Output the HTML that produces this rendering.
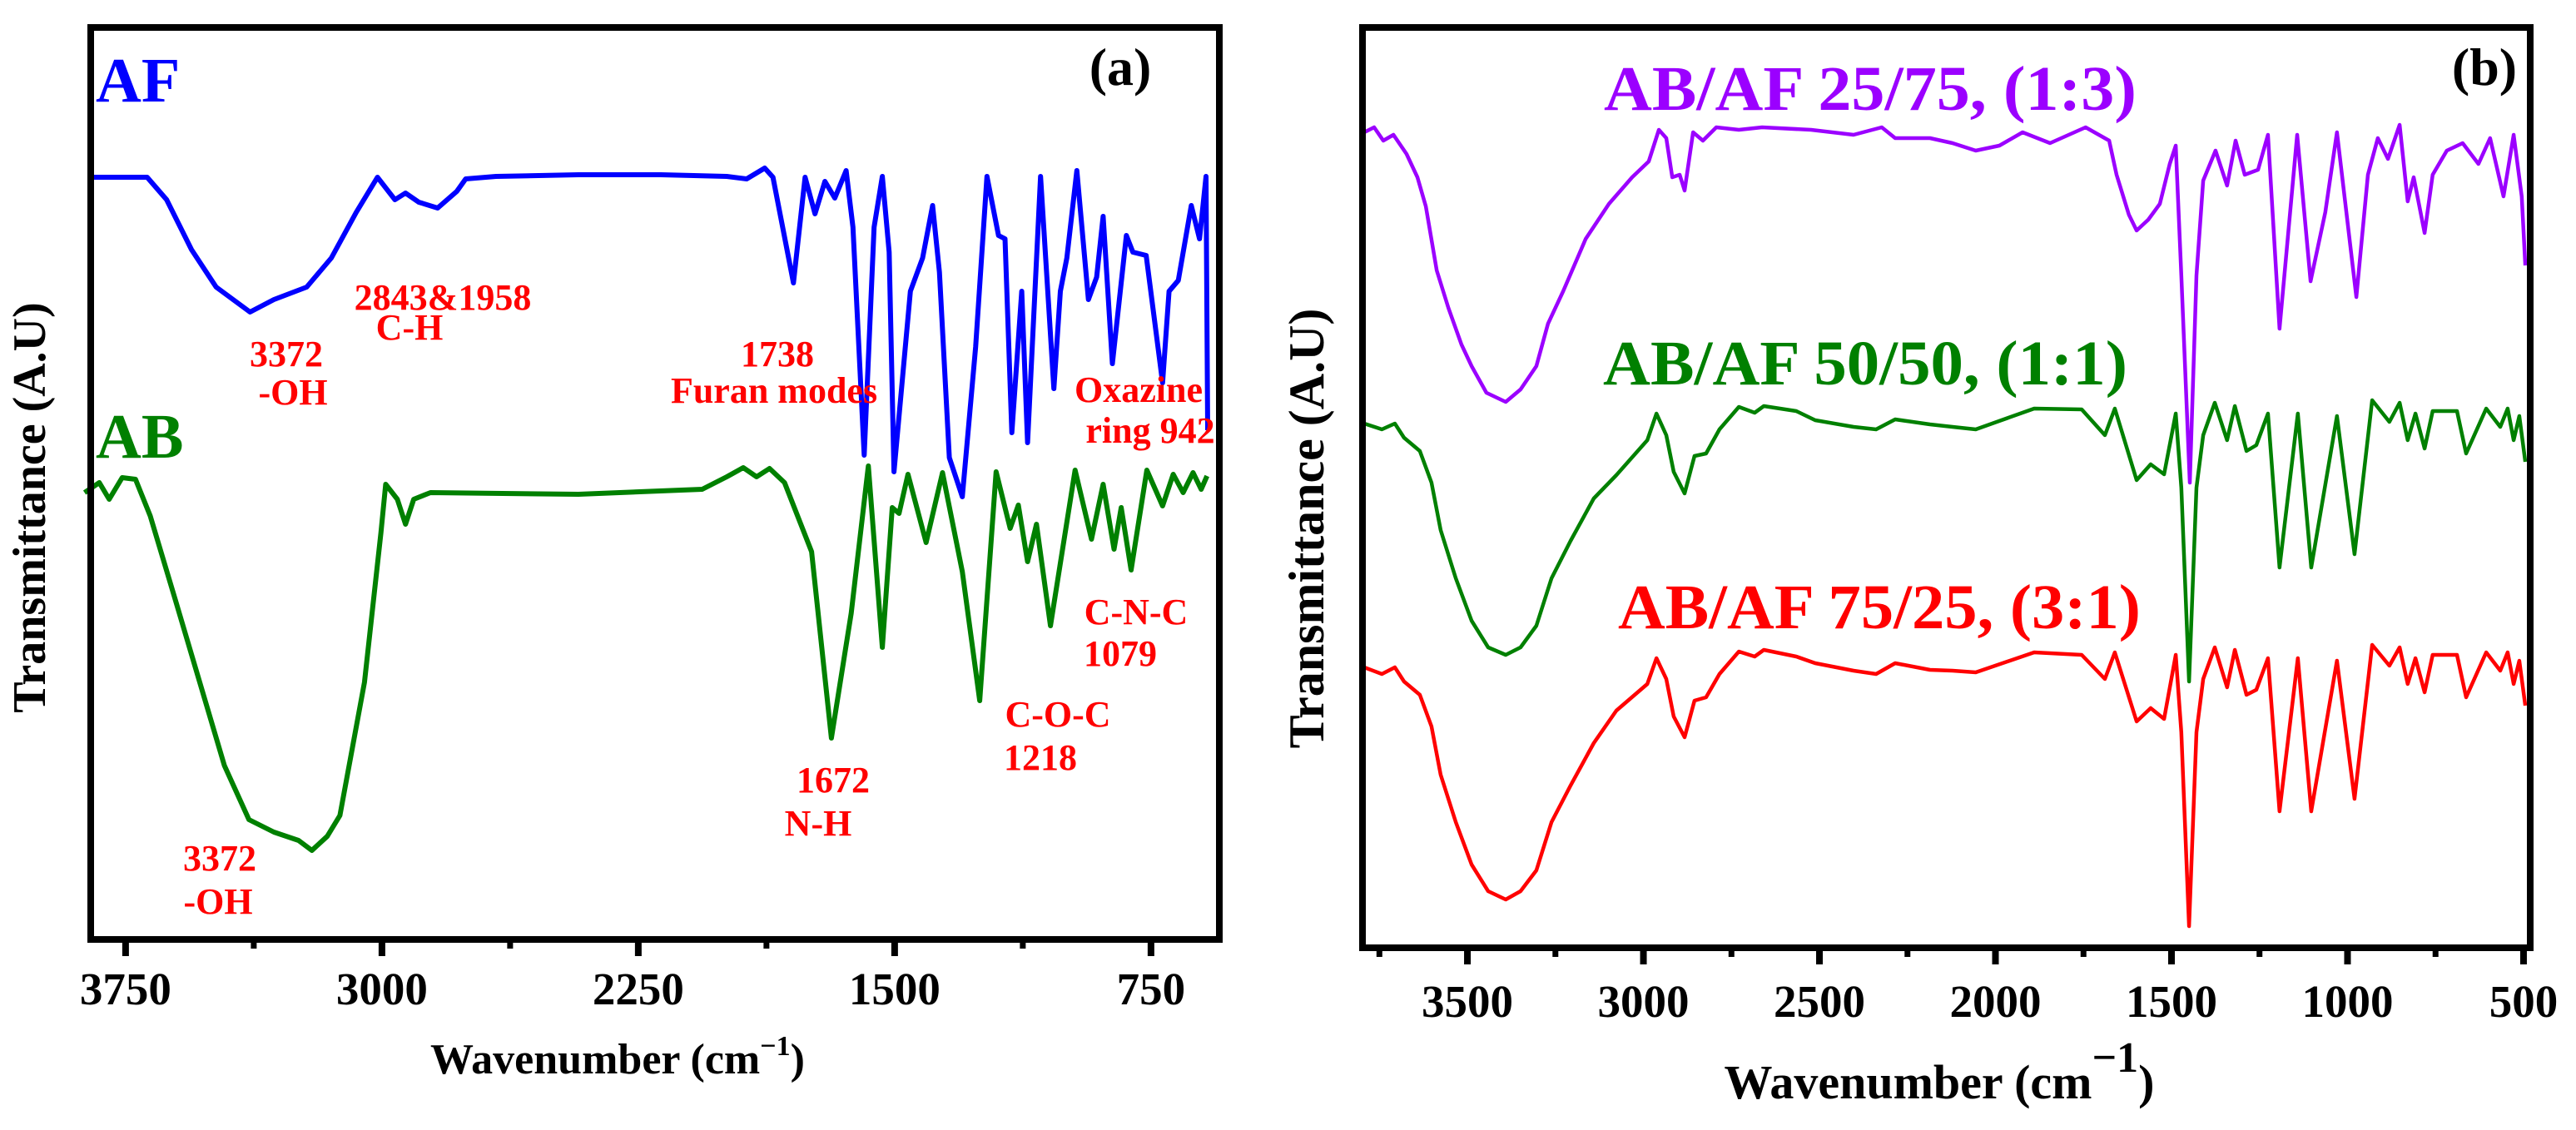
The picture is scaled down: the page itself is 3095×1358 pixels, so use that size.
<!DOCTYPE html>
<html><head><meta charset="utf-8"><title>FTIR spectra</title>
<style>
html,body{margin:0;padding:0;background:#fff;}
svg{display:block;font-family:"Liberation Serif","Times New Roman",serif;font-weight:bold;}
</style></head>
<body>
<svg id="chart" width="3095" height="1358" viewBox="0 0 3095 1358" xmlns="http://www.w3.org/2000/svg">
<rect width="3095" height="1358" fill="#fff"/>
<g id="panelA"></g>
<g id="panelB"></g>

<!-- panel a text -->
<text x="1346" y="102" font-size="64" text-anchor="middle">(a)</text>
<text x="115" y="122" font-size="76" fill="#0000ff">AF</text>
<text x="115" y="550" font-size="76" fill="#008000">AB</text>
<g fill="#ff0000" font-size="44" text-anchor="middle">
<text x="344" y="440">3372</text>
<text x="352" y="486">-OH</text>
<text x="532" y="372">2843&amp;1958</text>
<text x="492" y="408">C-H</text>
<text x="934" y="440">1738</text>
<text x="930" y="484">Furan modes</text>
<text x="1368" y="483">Oxazine</text>
<text x="1382" y="532">ring 942</text>
<text x="1365" y="750">C-N-C</text>
<text x="1346" y="800">1079</text>
<text x="1271" y="873">C-O-C</text>
<text x="1250" y="925">1218</text>
<text x="1001" y="952">1672</text>
<text x="983" y="1004">N-H</text>
<text x="264" y="1046">3372</text>
<text x="262" y="1098">-OH</text>
</g>
<text transform="translate(54,610) rotate(-90)" font-size="56" text-anchor="middle">Transmittance (A.U)</text>
<text x="742" y="1290" font-size="52" text-anchor="middle">Wavenumber (cm<tspan dy="-22" font-size="34">−1</tspan><tspan dy="22">)</tspan></text>

<!-- panel b text -->
<text x="2985" y="102" font-size="64" text-anchor="middle">(b)</text>
<text x="1927" y="132" font-size="76" fill="#9b00ff" textLength="640" lengthAdjust="spacingAndGlyphs">AB/AF 25/75, (1:3)</text>
<text x="1926" y="462" font-size="76" fill="#008000" textLength="630" lengthAdjust="spacingAndGlyphs">AB/AF 50/50, (1:1)</text>
<text x="1944" y="755" font-size="76" fill="#ff0000" textLength="628" lengthAdjust="spacingAndGlyphs">AB/AF 75/25, (3:1)</text>
<text transform="translate(1590,635) rotate(-90)" font-size="60" text-anchor="middle">Transmittance (A.U)</text>
<text x="2330" y="1320" font-size="58" text-anchor="middle">Wavenumber (cm<tspan dy="-32" font-size="52">−1</tspan><tspan dy="32">)</tspan></text>
</svg>
<script>
// ---------- Panel (a) data ----------
const afWn = [3858,3687,3630,3557,3485,3386,3316,3220,3148,3075,3013,2962,2931,2892,2837,2781,2755,2666,2425,2184,1991,1933,1880,1856,1796,1762,1733,1704,1675,1642,1622,1589,1560,1536,1516,1502,1454,1418,1389,1369,1340,1302,1263,1230,1196,1177,1157,1128,1111,1073,1034,1015,996,967,933,909,890,863,822,803,764,716,697,670,632,608,589,584];
const afT = [91.6,91.6,88.9,82.9,78.4,75.4,76.9,78.4,81.9,87.4,91.6,88.9,89.7,88.6,87.9,89.9,91.4,91.7,91.9,91.9,91.7,91.4,92.7,91.6,78.9,91.6,87.2,91.1,89.1,92.4,85.6,58.2,85.6,91.7,82.6,56.2,77.9,81.9,88.2,80.2,57.9,53.2,71.2,91.7,84.6,84.2,60.9,77.9,59.7,91.7,66.2,77.9,81.9,92.4,76.9,79.6,86.9,69.2,84.6,82.6,82.2,66.9,77.9,79.2,88.2,84.2,91.7,61.2];
const abWn = [3870,3827,3798,3760,3721,3678,3605,3533,3461,3389,3316,3244,3205,3160,3123,3051,3003,2989,2955,2931,2907,2858,2425,2063,1991,1943,1904,1866,1822,1743,1685,1627,1577,1536,1507,1487,1461,1408,1360,1302,1251,1203,1162,1138,1111,1085,1044,972,924,890,858,837,808,762,716,685,656,627,603,586];
const abT = [53.7,54.9,52.9,55.5,55.3,50.9,40.9,30.9,20.9,14.4,12.9,11.9,10.7,12.4,14.9,30.9,48.9,54.7,52.9,49.9,52.9,53.7,53.5,54.1,55.6,56.7,55.6,56.6,54.9,46.6,24.2,39.2,56.9,35.1,51.9,51.2,55.9,47.7,56.1,44.2,28.7,56.2,49.4,52.2,45.4,49.9,37.7,56.4,48.1,54.7,46.9,51.9,44.4,56.4,52.1,55.9,53.7,56.1,54.1,55.7];
const aMajorTicks = [3750,3000,2250,1500,750];
const aMinorTicks = [3375,2625,1875,1125];
const aTickLabels = ["3750","3000","2250","1500","750"];

// ---------- Panel (b) data ----------
const b1Wn = [3793,3765,3739,3710,3673,3642,3618,3587,3554,3517,3488,3446,3391,3349,3304,3271,3228,3164,3098,3032,2985,2956,2935,2918,2897,2883,2859,2831,2793,2729,2663,2524,2403,2323,2285,2186,2122,2056,1989,1923,1845,1744,1677,1656,1621,1599,1566,1533,1505,1488,1472,1448,1429,1410,1375,1342,1318,1292,1254,1226,1193,1143,1105,1063,1030,975,942,914,885,852,829,812,781,758,718,673,628,595,557,528,505,495];
const b1T = [98.0,98.6,97.0,97.7,95.4,92.6,89.1,81.4,76.9,72.5,69.9,66.7,65.6,67.1,69.9,75.0,78.9,85.2,89.4,92.6,94.5,98.3,97.3,92.6,92.9,91.0,98.0,97.0,98.6,98.3,98.6,98.3,97.7,98.6,97.3,97.3,96.7,95.8,96.4,98.0,96.7,98.6,97.0,92.9,88.1,86.2,87.5,89.4,94.2,96.4,80.8,55.9,80.8,92.2,95.8,91.6,97.0,92.9,93.5,97.7,74.4,97.7,80.1,88.4,98.0,78.2,92.9,97.3,94.8,98.9,89.7,92.6,85.9,92.9,95.8,96.7,94.2,97.3,90.3,97.7,90.3,82.0];
const b2Wn = [3793,3743,3706,3680,3635,3602,3576,3533,3488,3441,3391,3349,3304,3261,3207,3141,3077,2989,2963,2935,2914,2883,2855,2822,2784,2729,2684,2658,2566,2512,2403,2339,2285,2186,2122,2056,1890,1755,1689,1661,1599,1559,1521,1488,1472,1450,1429,1410,1377,1342,1320,1287,1259,1226,1193,1141,1103,1030,980,930,881,852,829,807,781,758,718,689,663,606,566,545,528,512,495];
const b2T = [63.0,62.3,63.0,61.3,59.7,55.9,50.2,44.4,39.3,36.1,35.2,36.1,38.7,44.4,48.9,54.0,56.8,61.0,64.2,61.6,57.2,54.6,59.1,59.4,62.3,65.0,64.3,65.1,64.5,63.4,62.6,62.3,63.5,62.9,62.6,62.3,64.8,64.7,61.6,64.8,56.2,58.1,56.9,64.2,55.3,32.0,55.3,61.6,65.5,61.0,65.1,59.7,60.4,64.2,45.7,64.2,45.7,63.9,47.3,65.8,63.2,65.5,61.0,64.2,60.0,64.5,64.5,64.5,59.4,64.8,62.6,64.8,61.0,63.9,58.4];
const b3Wn = b2Wn.slice();
const b3T = [33.7,32.9,33.7,32.0,30.4,26.6,20.8,15.1,10.0,6.8,5.8,6.8,9.3,15.1,19.5,24.6,28.5,31.7,34.8,32.3,27.8,25.3,29.7,30.1,32.9,35.6,35.0,35.8,35.0,34.2,33.3,32.9,34.2,33.4,33.3,33.1,35.5,35.2,32.3,35.5,27.2,28.8,27.5,35.2,25.9,2.6,25.9,32.3,36.1,31.3,35.8,30.4,31.0,34.8,16.4,34.8,16.4,34.5,17.9,36.4,33.9,36.1,31.7,34.8,30.7,35.2,35.2,35.2,30.1,35.5,33.3,35.5,31.7,34.5,29.1];
const bMajorTicks = [3500,3000,2500,2000,1500,1000,500];
const bMinorTicks = [3750,3250,2750,2250,1750,1250,750];
const bTickLabels = ["3500","3000","2500","2000","1500","1000","500"];

const NS = "http://www.w3.org/2000/svg";
function mk(tag, attrs, parent){const e=document.createElementNS(NS,tag);for(const k in attrs)e.setAttribute(k,attrs[k]);parent.appendChild(e);return e;}
function linScale(d0,d1,r0,r1){return v=>r0+(v-d0)/(d1-d0)*(r1-r0);}

function drawPanel(g, box, xDom, yDom, series, majors, minors, labels, labelY, lw){
  const sx = linScale(xDom[0],xDom[1],box.l,box.r);
  const sy = linScale(yDom[0],yDom[1],box.b,box.t);
  series.forEach(s=>{
    let d="";
    s.wn.forEach((w,i)=>{d+=(i?"L":"M")+sx(w).toFixed(1)+","+sy(s.t[i]).toFixed(1);});
    const p = mk("path",{d:d,fill:"none",stroke:s.color,"stroke-width":lw,"stroke-linejoin":"round"},g);
    
    
  });
  const fr = mk("rect",{x:box.l,y:box.t,width:box.r-box.l,height:box.b-box.t,fill:"none",stroke:"#000","stroke-width":8},g);
  
  
  majors.forEach((v,i)=>{
    const x=sx(v);
    const t=mk("line",{x1:x,x2:x,y1:box.b,y2:box.b+20,stroke:"#000","stroke-width":8},g);
    
    
    const tl=mk("text",{x:x,y:labelY,"font-size":55,"text-anchor":"middle"},g);
    tl.textContent=labels[i];
    
    
  });
  minors.forEach(v=>{
    const x=sx(v);
    const t=mk("line",{x1:x,x2:x,y1:box.b,y2:box.b+11,stroke:"#000","stroke-width":7},g);
    
    
  });
}

drawPanel(document.getElementById("panelA"), {l:109,r:1465,t:33,b:1129}, [3852,550], [0,109.6],
  [{wn:afWn,t:afT,color:"#0000ff",name:"af-spectrum"},{wn:abWn,t:abT,color:"#008000",name:"ab-spectrum"}],
  aMajorTicks, aMinorTicks, aTickLabels, 1207, 6);

drawPanel(document.getElementById("panelB"), {l:1637,r:3040,t:33,b:1139}, [3798,481], [0,110.6],
  [{wn:b1Wn,t:b1T,color:"#9b00ff",name:"spectrum-25-75"},{wn:b2Wn,t:b2T,color:"#008000",name:"spectrum-50-50"},{wn:b3Wn,t:b3T,color:"#ff0000",name:"spectrum-75-25"}],
  bMajorTicks, bMinorTicks, bTickLabels, 1222, 4.5);
</script>
</body></html>
